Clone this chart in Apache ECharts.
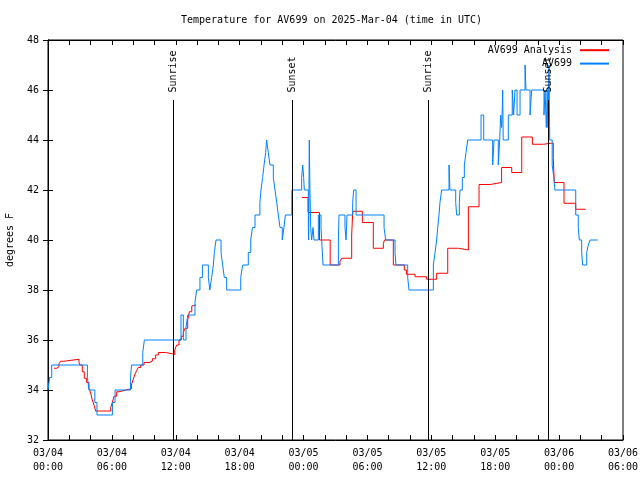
<!DOCTYPE html>
<html>
<head>
<meta charset="utf-8">
<script src="https://cdn.jsdelivr.net/npm/echarts@6/dist/echarts.min.js"></script>
<style>html,body{margin:0;padding:0;background:#fff;}#c{width:640px;height:480px;}</style>
</head>
<body>
<div id="c"></div>
<script>
// hours since 2025-03-04 00:00 UTC
const blueHours = [0.0,0.15,0.35,3.7,3.85,4.4,4.6,6.05,6.3,7.75,7.85,8.9,9.05,12.49,12.71,12.96,13.12,13.8,13.96,14.27,14.5,15.06,15.2,15.37,15.53,15.62,15.78,16.25,16.4,16.56,16.78,18.1,18.28,18.81,19.04,19.2,19.44,19.9,20.0,20.16,20.29,20.44,20.53,20.69,20.85,21.16,21.32,21.48,21.63,21.79,22.0,22.16,22.29,22.9,23.82,23.92,24.01,24.07,24.45,24.48,24.54,24.6,24.67,24.76,24.89,24.98,25.39,25.64,25.7,25.83,27.27,27.33,27.89,27.99,28.08,28.61,28.71,28.93,31.56,31.71,32.59,32.68,33.78,33.9,36.19,36.35,36.5,36.6,36.72,36.81,36.97,37.66,37.75,38.29,38.38,38.63,38.69,38.91,39.1,39.26,39.41,40.67,40.92,41.76,41.89,42.29,42.42,42.51,42.6,42.65,42.7,42.75,43.23,43.6,43.73,43.86,44.05,44.33,44.8,44.89,45.27,45.42,46.58,46.68,46.8,46.88,46.95,47.05,47.12,47.35,47.5,47.6,49.56,49.8,49.9,50.12,50.21,50.59,50.74,50.9,51.62];
const blueTemps = [34.0,34.5,35.0,34.5,34.0,33.5,33.0,33.5,34.0,34.5,35.0,35.5,36.0,37.0,36.0,36.5,37.0,37.5,38.0,38.5,39.0,38.5,38.0,38.5,39.0,39.5,40.0,39.5,39.0,38.5,38.0,38.5,39.0,39.5,40.0,40.5,41.0,41.5,42.0,42.5,43.0,43.5,44.0,43.5,43.0,42.5,42.0,41.5,41.0,40.5,40.0,40.5,41.0,42.0,42.5,43.0,42.5,42.0,40.5,40.0,44.0,42.0,40.5,40.0,40.5,40.0,41.0,40.5,40.0,39.0,40.0,41.0,40.5,40.0,41.0,41.5,42.0,41.0,40.5,40.0,39.5,39.0,38.5,38.0,39.0,39.5,40.0,40.5,41.0,41.5,42.0,43.0,42.0,41.5,41.0,41.5,42.0,42.5,43.0,43.5,44.0,45.0,44.0,43.0,44.0,43.0,44.0,45.0,44.5,45.0,46.0,44.0,45.0,46.0,45.0,46.0,45.0,46.0,47.0,46.0,45.0,46.0,45.0,46.0,44.5,46.0,44.5,47.0,44.0,43.0,42.5,42.0,41.0,40.5,40.0,39.5,39.0,39.5,39.8,40.0,40.0];

const redHours = [0.56,0.81,1.03,1.19,1.5,2.91,3.0,3.22,3.41,3.63,3.85,4.01,4.16,4.32,4.48,5.89,6.04,6.2,6.45,6.67,7.3,7.83,7.98,8.14,8.3,8.48,8.7,9.02,9.49,9.8,10.11,10.36,11.05,11.68,11.9,12.08,12.3,12.52,12.71,12.87,13.12,13.27,13.5,13.59,13.9,13.91,23.85,24.42,25.5,26.5,27.42,27.58,28.52,28.62,29.52,30.55,31.49,31.6,32.43,33.46,33.66,34.47,35.56,36.5,37.54,38.54,39.48,40.48,41.51,42.6,43.55,44.49,45.49,46.52,47.45,47.55,48.46,49.56,50.5];
const redTemps = [34.87,34.93,35.05,35.15,35.23,35.1,35.0,34.73,34.47,34.3,34.07,33.87,33.6,33.4,33.16,33.3,33.5,33.75,33.93,34.0,34.05,34.2,34.4,34.6,34.75,34.9,35.0,35.1,35.15,35.25,35.4,35.5,35.45,35.42,35.6,35.8,36.0,36.15,36.3,36.47,36.8,37.13,37.36,37.4,37.4,null,41.7,41.1,40.0,39.0,39.15,39.27,40.2,41.15,40.7,39.67,39.85,40.0,39.0,38.8,38.63,38.53,38.43,38.67,39.67,39.6,41.33,42.22,42.3,42.9,42.7,44.12,43.83,43.88,43.3,42.3,41.47,41.23,41.23];

const sunHours = [11.77, 22.94, 35.72, 46.99];
const sunLabels = ['Sunrise', 'Sunset', 'Sunrise', 'Sunset'];

const seriesNames = ['AV699 Analysis', 'AV699'];
const yTicks = [32, 48, 2];
const FONT = '"DejaVu Sans Mono", "Liberation Mono", monospace';

function pad(n){ return (n < 10 ? '0' : '') + n; }
function xLabel(v){
  if (Math.round(v) % 6 !== 0) return '';
  const day = 4 + Math.floor(v / 24);
  const hr = Math.round(v) % 24;
  return '03/' + pad(day) + '\n' + pad(hr) + ':00';
}

const chart = echarts.init(document.getElementById('c'), null, {renderer: 'canvas'});
const axisCommon = {
  axisLine: {show: true, lineStyle: {color: '#000', width: 1}},
  axisTick: {show: true, inside: true, length: 5, lineStyle: {color: '#000'}},
  splitLine: {show: false}
};
chart.setOption({
  animation: false,
  backgroundColor: '#fff',
  textStyle: {fontFamily: FONT, fontSize: 10, color: '#000'},
  title: {
    text: 'Temperature for AV699 on 2025-Mar-04 (time in UTC)',
    left: 181, top: 15, padding: 0,
    textStyle: {fontFamily: FONT, fontSize: 10, fontWeight: 'normal', color: '#000'}
  },
  legend: {
    data: seriesNames,
    orient: 'vertical', align: 'right',
    right: 30, top: 45, padding: 0,
    itemWidth: 29, itemHeight: 13, itemGap: 3,
    itemStyle: {opacity: 0},
    textStyle: {fontFamily: FONT, fontSize: 10, color: '#000', padding: [0, 3, 0, 0]}
  },
  grid: {left: 48, right: 17, top: 40, bottom: 40, show: true, borderColor: '#000', borderWidth: 1, containLabel: false, outerBoundsMode: 'none'},
  xAxis: [
    Object.assign({type: 'value', min: 0, max: 54, interval: 2, position: 'bottom',
      axisLabel: {formatter: xLabel, fontFamily: FONT, fontSize: 10, color: '#000', margin: 6, lineHeight: 14}}, axisCommon),
    Object.assign({type: 'value', min: 0, max: 54, interval: 2, position: 'top',
      axisLabel: {show: false}}, axisCommon)
  ],
  yAxis: [
    Object.assign({type: 'value', min: yTicks[0], max: yTicks[1], interval: yTicks[2], position: 'left',
      name: 'degrees F', nameLocation: 'middle', nameGap: 33,
      nameTextStyle: {fontFamily: FONT, fontSize: 10, color: '#000'},
      axisLabel: {fontFamily: FONT, fontSize: 10, color: '#000', margin: 9}}, axisCommon),
    Object.assign({type: 'value', min: yTicks[0], max: yTicks[1], interval: yTicks[2], position: 'right',
      axisLabel: {show: false}}, axisCommon)
  ],
  series: [
    {
      name: seriesNames[0], type: 'line', step: 'end', symbol: 'none', showSymbol: false,
      connectNulls: false,
      lineStyle: {color: '#ff0000', width: 1}, itemStyle: {color: '#ff0000'},
      data: redHours.map((h, i) => [h, redTemps[i]]),
      z: 3
    },
    {
      name: seriesNames[1], type: 'line', step: 'end', symbol: 'none', showSymbol: false,
      lineStyle: {color: '#0080ff', width: 1}, itemStyle: {color: '#0080ff'},
      data: blueHours.map((h, i) => [h, blueTemps[i]]),
      z: 4
    },
    {
      name: 'sun', type: 'custom', z: 5,
      data: sunHours.map(h => [h, 32]),
      renderItem: function (params, api) {
        const x = api.value(0);
        const p0 = api.coord([x, 32]);
        const p1 = api.coord([x, 45.6]);
        const pt = api.coord([x, 45.9]);
        const xr = Math.round(p0[0]) + 0.5;
        return {
          type: 'group',
          children: [
            {type: 'line', shape: {x1: xr, y1: p0[1], x2: xr, y2: p1[1]}, style: {stroke: '#000', lineWidth: 1}},
            {type: 'text', x: xr, y: pt[1], rotation: Math.PI / 2,
              style: {text: sunLabels[params.dataIndex], align: 'left', verticalAlign: 'middle', font: '10px ' + FONT, fill: '#000'}}
          ]
        };
      }
    }
  ]
});
</script>
</body>
</html>
